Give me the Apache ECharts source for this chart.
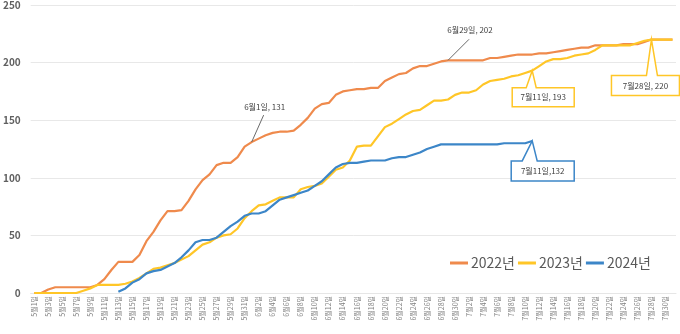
<!DOCTYPE html>
<html>
<head>
<meta charset="utf-8">
<script src="https://cdn.jsdelivr.net/npm/echarts@6/dist/echarts.min.js"></script>
<style>
  html, body { margin: 0; padding: 0; background: #ffffff; }
  #chart { width: 680px; height: 334px; }
</style>
</head>
<body>
<div id="chart"></div>
<script>
// Daily categories, 5월1일 .. 7월31일
const months = [5, 6, 7];
const daysInMonth = [31, 30, 31];
const categories = [];
months.forEach((m, k) => {
  for (let d = 1; d <= daysInMonth[k]; d++) categories.push(m + '월' + d + '일');
});

const seriesNames = ['2022년', '2023년', '2024년'];

// Cumulative counts per day
const values2022 = [
  0, 0, 3, 5, 5, 5, 5, 5, 5, 7,
  12, 20, 27, 27, 27, 33, 45, 53, 63, 71,
  71, 72, 80, 90, 98, 103, 111, 113, 113, 118,
  127, 131, 134, 137, 139, 140, 140, 141, 146, 152,
  160, 164, 165, 172, 175, 176, 177, 177, 178, 178,
  184, 187, 190, 191, 195, 197, 197, 199, 201, 202,
  202, 202, 202, 202, 202, 204, 204, 205, 206, 207,
  207, 207, 208, 208, 209, 210, 211, 212, 213, 213,
  215, 215, 215, 215, 216, 216, 216, 218, 220, 220, 220, 220
];
const values2023 = [
  0, 0, 0, 0, 0, 0, 0, 2, 4, 7,
  7, 7, 7, 8, 10, 13, 17, 21, 22, 24,
  26, 29, 32, 37, 42, 44, 48, 50, 51, 56,
  65, 71, 76, 77, 80, 83, 83, 83, 90, 92,
  93, 95, 101, 107, 109, 115, 127, 128, 128, 136,
  144, 147, 151, 155, 158, 159, 163, 167, 167, 168,
  172, 174, 174, 176, 181, 184, 185, 186, 188, 189,
  191, 193, 197, 201, 203, 203, 204, 206, 207, 208,
  211, 215, 215, 215, 215, 215, 217, 219, 220, 220, 220, 220
];
const values2024 = [
  null, null, null, null, null, null, null, null, null, null,
  null, null, 1, 4, 9, 12, 17, 19, 20, 23,
  26, 31, 37, 44, 46, 46, 48, 53, 58, 62,
  67, 69, 69, 71, 76, 81, 83, 85, 87, 89,
  93, 97, 103, 109, 112, 113, 113, 114, 115, 115,
  115, 117, 118, 118, 120, 122, 125, 127, 129, 129,
  129, 129, 129, 129, 129, 129, 129, 130, 130, 130,
  130, 132
];

const yTicks = [0, 50, 100, 150, 200, 250];

// Callout annotations: [series index, category]
const notes = [
  { s: 0, day: '6월1일', text: '6월1일, 131', kind: 'leader' },
  { s: 0, day: '6월29일', text: '6월29일, 202', kind: 'leader' },
  { s: 1, day: '7월11일', text: '7월11일, 193', kind: 'box' },
  { s: 2, day: '7월11일', text: '7월11일,132', kind: 'box' },
  { s: 1, day: '7월28일', text: '7월28일, 220', kind: 'box' }
];

const colors = ['#EF8A4C', '#FFC627', '#3C86C8'];
const allValues = [values2022, values2023, values2024];
const FONT = '"Noto Sans CJK KR", "Noto Sans", sans-serif';

const chart = echarts.init(document.getElementById('chart'), null, { renderer: 'canvas' });

chart.setOption({
  animation: false,
  backgroundColor: '#ffffff',
  color: colors,
  grid: { left: 28, right: 4, top: 4, bottom: 41, containLabel: false },
  legend: {
    data: seriesNames,
    left: 450,
    top: 256,
    width: 230,
    orient: 'horizontal',
    padding: 0,
    icon: 'rect',
    itemWidth: 18,
    itemHeight: 3,
    itemGap: 3,
    textStyle: { fontFamily: FONT, fontSize: 14, color: '#595959', padding: [0, 0, 0, -2] }
  },
  xAxis: {
    type: 'category',
    data: categories,
    boundaryGap: true,
    axisLine: { show: true, lineStyle: { color: '#e6e6e6', width: 1 } },
    axisTick: { show: false },
    axisLabel: {
      interval: 1,
      rotate: 90,
      margin: 3,
      fontFamily: FONT,
      fontSize: 7,
      color: '#808080'
    },
    splitLine: { show: false }
  },
  yAxis: {
    type: 'value',
    min: yTicks[0],
    max: yTicks[yTicks.length - 1],
    interval: yTicks[1] - yTicks[0],
    axisLine: { show: false },
    axisTick: { show: false },
    axisLabel: {
      margin: 10,
      fontFamily: FONT,
      fontSize: 10,
      fontWeight: 'bold',
      color: '#606060'
    },
    splitLine: { lineStyle: { color: '#e8e8e8', width: 1 } }
  },
  series: allValues.map((vals, i) => ({
    name: seriesNames[i],
    type: 'line',
    data: vals,
    showSymbol: false,
    symbol: 'none',
    connectNulls: false,
    lineStyle: { width: 2.2, color: colors[i] },
    itemStyle: { color: colors[i] },
    z: 2 + i
  }))
});

// Annotation layer, anchored to the data points through the axes
function anchor(note) {
  const idx = categories.indexOf(note.day);
  const v = allValues[note.s][idx];
  return chart.convertToPixel({ seriesIndex: note.s }, [idx, v]);
}

const layout = {
  '0-6월1일': { tx: 13, ty: -35, lx: 12, ly: -27 },
  '0-6월29일': { tx: 22, ty: -30, lx: 21, ly: -21 },
  '1-7월11일': { l: -20, r: 42, t: 17, b: 36, n1: -6, n2: 4 },
  '2-7월11일': { l: -21, r: 42, t: 20, b: 40, n1: -10, n2: 5 },
  '1-7월28일': { l: -40, r: 28, t: 36, b: 56, n1: -5, n2: 6 }
};

const graphics = [];
notes.forEach(note => {
  const p = anchor(note);
  const L = layout[note.s + '-' + note.day];
  if (note.kind === 'leader') {
    graphics.push({
      type: 'line',
      shape: { x1: p[0], y1: p[1], x2: p[0] + L.lx, y2: p[1] + L.ly },
      style: { stroke: '#6a6a6a', lineWidth: 1 },
      z: 10
    });
    graphics.push({
      type: 'text',
      x: p[0] + L.tx,
      y: p[1] + L.ty,
      style: {
        text: note.text,
        fontFamily: FONT,
        fontSize: 8,
        fill: '#404040',
        align: 'center',
        verticalAlign: 'middle'
      },
      z: 10
    });
  } else {
    const x0 = p[0] + L.l, x1 = p[0] + L.r, y0 = p[1] + L.t, y1 = p[1] + L.b;
    graphics.push({
      type: 'polygon',
      shape: {
        points: [
          [x0, y0], [p[0] + L.n1, y0], [p[0], p[1]], [p[0] + L.n2, y0],
          [x1, y0], [x1, y1], [x0, y1]
        ]
      },
      style: { fill: '#ffffff', stroke: colors[note.s], lineWidth: 1.5 },
      z: 10
    });
    graphics.push({
      type: 'text',
      x: (x0 + x1) / 2,
      y: (y0 + y1) / 2,
      style: {
        text: note.text,
        fontFamily: FONT,
        fontSize: 8,
        fill: '#404040',
        align: 'center',
        verticalAlign: 'middle'
      },
      z: 11
    });
  }
});

chart.setOption({ graphic: graphics });
</script>
</body>
</html>
